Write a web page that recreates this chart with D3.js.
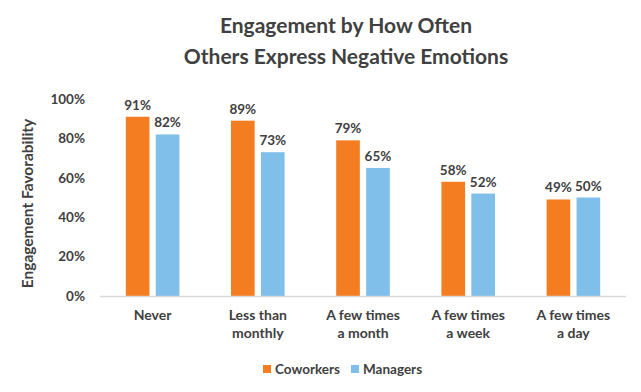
<!DOCTYPE html>
<html lang="en">
<head>
    <meta charset="UTF-8">
    <title>Engagement by How Often Others Express Negative Emotions</title>
    <script src="https://d3js.org/d3.v7.min.js"></script>
    <style>
        body { margin: 0; background: #fff; }
        svg { display: block; font-family: Lato, "Open Sans", sans-serif; font-weight: bold; }
    </style>
</head>
<body>
    <svg width="641" height="392"></svg>
    <script>
        const categories = [["Never"], ["Less than", "monthly"], ["A few times", "a month"], ["A few times", "a week"], ["A few times", "a day"]];
        const seriesNames = ["Coworkers", "Managers"];
        const coworkers = [91, 89, 79, 58, 49];
        const managers = [82, 73, 65, 52, 50];
        const yTicks = [0, 20, 40, 60, 80, 100];

        const colors = ["#F47D22", "#7FBFEA"];
        const textColor = "#404040";

        const svg = d3.select("svg");
        const margin = { left: 100, right: 15, top: 99, bottom: 96 };
        const width = 641 - margin.left - margin.right;
        const height = 392 - margin.top - margin.bottom;

        const g = svg.append("g").attr("transform", `translate(${margin.left},${margin.top})`);

        const x = d3.scaleBand().domain(d3.range(categories.length)).range([0, width]).paddingInner(0).paddingOuter(0);
        const inner = d3.scaleBand().domain(seriesNames).range([25.8, x.bandwidth() - 25.8]).paddingInner(0.21);
        const y = d3.scaleLinear().domain([0, 100]).range([height, 0]);

        // 标题
        const title = svg.append("text")
            .attr("x", 346).attr("y", 33)
            .attr("text-anchor", "middle")
            .attr("fill", textColor)
            .style("font-size", "21px");
        title.append("tspan").attr("x", 346).text("Engagement by How Often");
        title.append("tspan").attr("x", 346).attr("dy", 31).text("Others Express Negative Emotions");

        // y 轴刻度
        g.selectAll(".ytick").data(yTicks).join("text")
            .attr("x", -15).attr("y", d => y(d))
            .attr("dy", "0.35em")
            .attr("text-anchor", "end")
            .attr("fill", textColor)
            .style("font-size", "13.5px")
            .text(d => d + "%");

        // y 轴标题
        svg.append("text")
            .attr("transform", `translate(33,${margin.top + height / 2 + 6}) rotate(-90)`)
            .attr("text-anchor", "middle")
            .attr("fill", textColor)
            .style("font-size", "15.5px")
            .text("Engagement Favorability");

        // 柱子
        const data = categories.map((c, i) => [
            { s: seriesNames[0], v: coworkers[i] },
            { s: seriesNames[1], v: managers[i] }
        ]);

        const groups = g.selectAll(".grp").data(data).join("g")
            .attr("transform", (d, i) => `translate(${x(i)},0)`);

        groups.selectAll("rect").data(d => d).join("rect")
            .attr("x", d => inner(d.s))
            .attr("width", inner.bandwidth())
            .attr("y", d => y(d.v))
            .attr("height", d => height - y(d.v))
            .attr("fill", (d, j) => colors[j]);

        groups.selectAll(".lbl").data(d => d).join("text")
            .attr("x", d => inner(d.s) + inner.bandwidth() / 2)
            .attr("y", d => y(d.v) - 7)
            .attr("text-anchor", "middle")
            .attr("fill", textColor)
            .style("font-size", "13.5px")
            .text(d => d.v + "%");

        // x 轴线
        g.append("line")
            .attr("x1", 0).attr("x2", width)
            .attr("y1", height + 0.5).attr("y2", height + 0.5)
            .attr("stroke", "#d9d9d9").attr("stroke-width", 1.5);

        // 类别标签
        categories.forEach((lines, i) => {
            const t = g.append("text")
                .attr("x", x(i) + x.bandwidth() / 2)
                .attr("y", height + 24)
                .attr("text-anchor", "middle")
                .attr("fill", textColor)
                .style("font-size", "14px");
            lines.forEach((l, k) => {
                t.append("tspan").attr("x", x(i) + x.bandwidth() / 2).attr("dy", k === 0 ? 0 : 18).text(l);
            });
        });

        // 图例
        const legend = svg.append("g").attr("transform", "translate(263,369)");
        const legX = [0, 88];
        seriesNames.forEach((s, i) => {
            legend.append("rect")
                .attr("x", legX[i]).attr("y", -4)
                .attr("width", 8).attr("height", 8)
                .attr("fill", colors[i]);
            legend.append("text")
                .attr("x", legX[i] + 12).attr("y", 0)
                .attr("dy", "0.35em")
                .attr("fill", textColor)
                .style("font-size", "13.5px")
                .text(s);
        });
    </script>
</body>
</html>
